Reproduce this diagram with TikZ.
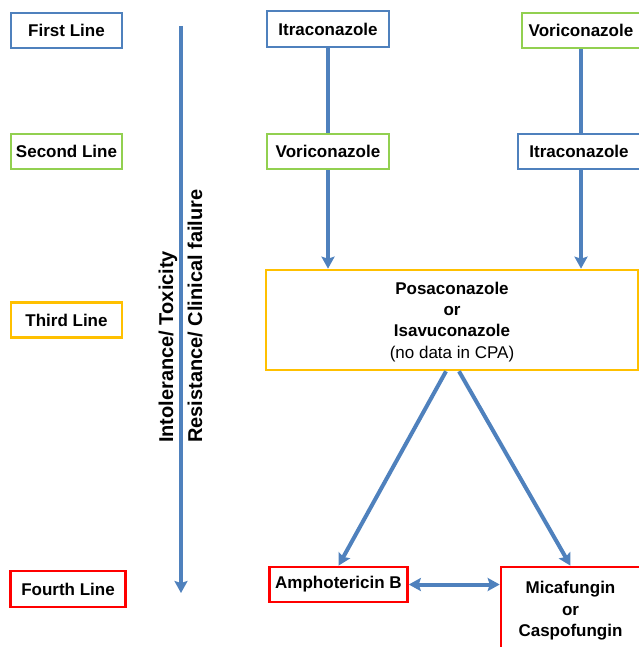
\documentclass[tikz,border=0pt]{standalone}
\usepackage{fontspec}
\setmainfont{Liberation Sans}
\usetikzlibrary{arrows.meta,calc}
\definecolor{obl}{HTML}{4F81BD}
\definecolor{ogr}{HTML}{92D050}
\definecolor{oor}{HTML}{FFC000}
\definecolor{ore}{HTML}{FF0000}
\begin{document}
\begin{tikzpicture}[x=1pt,y=-1pt,
  box/.style={draw,line width=2.6pt,fill=white,inner sep=0pt,align=center,
    font=\fontsize{17}{21.3}\selectfont\bfseries},
  bluebox/.style={box,draw=obl},
  greenbox/.style={box,draw=ogr},
  orangebox/.style={box,draw=oor},
  redbox/.style={box,draw=ore},
  conn/.style={draw=obl,line width=4pt},
  tip/.style={Stealth[width=13pt,length=12pt,inset=2pt]},
  arr/.style={conn,-{Stealth[width=13pt,length=12pt,inset=2pt]}},
  darr/.style={conn,{Stealth[width=13pt,length=12pt,inset=2pt]}-{Stealth[width=13pt,length=12pt,inset=2pt]}},
  sidetext/.style={rotate=90,anchor=base west,inner sep=0pt,
    font=\fontsize{20}{24}\selectfont\bfseries}
]
\useasboundingbox (0,0) rectangle (638,647);
% level labels
\node[bluebox,minimum width=111,minimum height=35] (l1) at (66.5,30.5) {First Line};
\node[greenbox,minimum width=111,minimum height=35] (l2) at (66.5,151.5) {Second Line};
\node[orangebox,minimum width=111,minimum height=35] (l3) at (66.5,320) {Third Line};
\node[redbox,minimum width=115,minimum height=36] (l4) at (68,589) {Fourth Line};
% main vertical arrow
\coordinate (vtop) at (181,26);
\coordinate (vbot) at (181,593);
\draw[arr] (vtop) -- (vbot);
\node[sidetext] (t1) at (173,443) {Intolerance/ Toxicity};
\node[sidetext] (t2) at (202,443) {Resistance/ Clinical failure};
% drug boxes
\node[bluebox,minimum width=122,minimum height=36] (itraA) at (328,29) {Itraconazole};
\node[greenbox,minimum width=122,minimum height=35] (voriA) at (328,151.5) {Voriconazole};
\node[greenbox,minimum width=118,minimum height=35] (voriB) at (581,30.5) {Voriconazole};
\node[bluebox,minimum width=122,minimum height=35] (itraB) at (579,151.5) {Itraconazole};
\node[orangebox,minimum width=372,minimum height=100,text depth=0pt] (third) at (452,320)
  {Posaconazole\\or\\Isavuconazole\\{\mdseries (no data in CPA)}};
\node[redbox,minimum width=138,minimum height=35] (amph) at (338.5,584.5) {Amphotericin B};
\node[redbox,minimum width=139,minimum height=84,text depth=0pt] (mica) at (570.5,609)
  {Micafungin\\or\\Caspofungin};
% connectors
\draw[conn] (itraA.south) -- (voriA.north);
\draw[conn] (voriB.south -| 581,0) -- (itraB.north -| 581,0);
\draw[arr] (voriA.south) -- (voriA.south |- third.north);
\draw[arr] (itraB.south -| 581,0) -- (third.north -| 581,0);
\coordinate (dA) at ($(third.south)+(-6,0)$);
\coordinate (dB) at ($(third.south)+(7,0)$);
\draw[arr] (dA) -- (amph.north);
\draw[arr] (dB) -- (mica.north);
\draw[darr] (amph.east) -- (mica.west |- amph.east);
\end{tikzpicture}
\end{document}
